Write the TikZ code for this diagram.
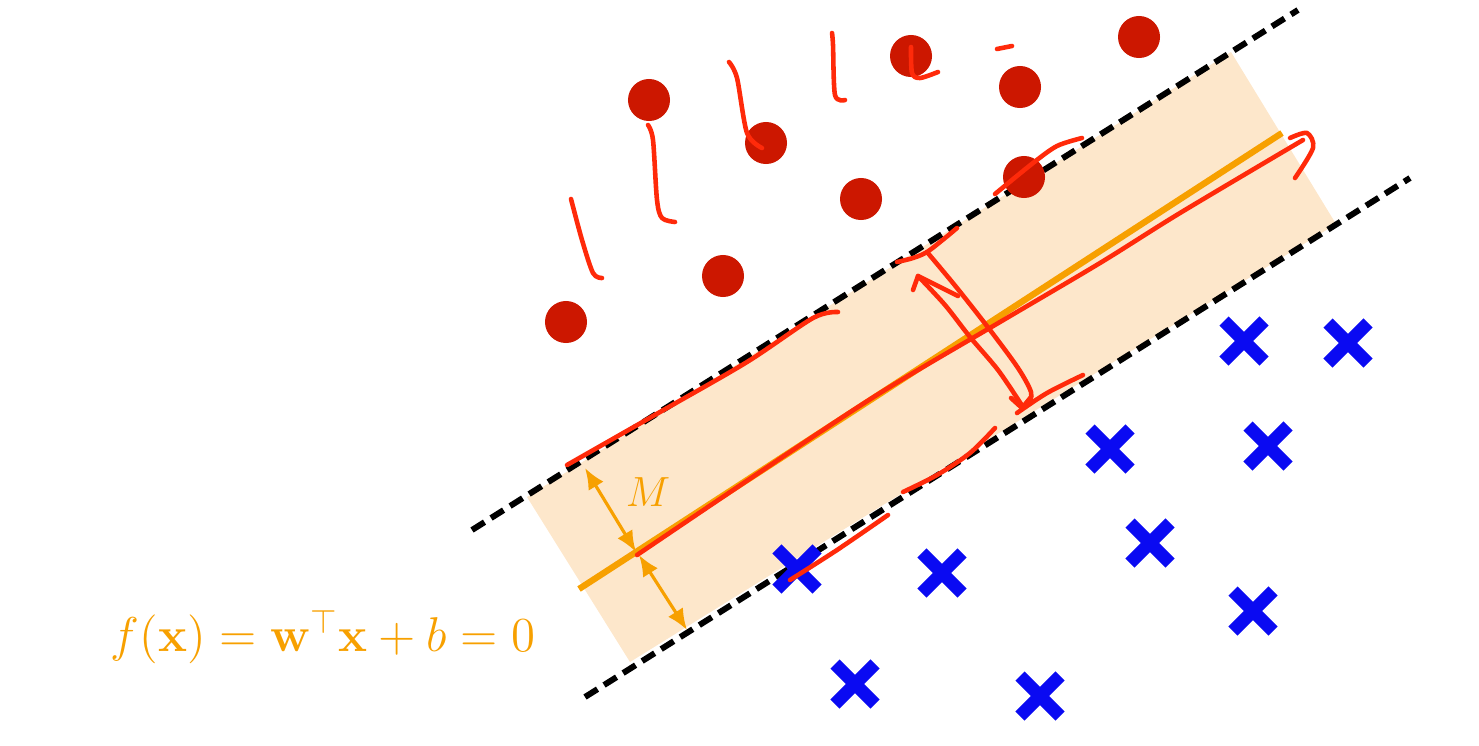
\documentclass[tikz,border=0pt]{standalone}
\usepackage{amsmath}
\usetikzlibrary{arrows.meta,shapes.misc}
\definecolor{bandfill}{HTML}{FDE7CB}
\definecolor{orng}{HTML}{F7A000}
\definecolor{dotred}{HTML}{CC1700}
\definecolor{penred}{HTML}{FF2A0A}
\definecolor{xblue}{HTML}{0A0AF2}
\tikzset{
  margin/.style={line width=1.7pt, dash pattern=on 4.2pt off 2.2pt},
  hyper/.style={orng, line width=1.8pt},
  marrow/.style={orng, line width=0.9pt, {Latex[length=6pt,width=5pt]}-{Latex[length=6pt,width=5pt]}},
  rdot/.style={circle, fill=dotred, minimum size=0.42cm, inner sep=0pt},
  bcross/.style={cross out, draw=xblue, line width=3.7pt, minimum size=0.27cm, inner sep=0pt},
  pen/.style={penred, line width=1.3pt, line cap=round, line join=round},
}
\begin{document}
\begin{tikzpicture}[x=0.01cm,y=-0.01cm]
\useasboundingbox (0,0) rectangle (1479,745);
% band
\fill[bandfill] (527,497) -- (1231,52) -- (1336,224) -- (630,662) -- cycle;
% margins
\coordinate (u1) at (472,530); \coordinate (u2) at (1298,10);
\coordinate (l1) at (585,697); \coordinate (l2) at (1410,178);
\draw[margin] (u1) -- (u2);
\draw[margin] (l1) -- (l2);
% hyperplane
\coordinate (h1) at (579,589); \coordinate (h2) at (1282,133);
\draw[hyper] (h1) -- (h2);
% margin arrows
\coordinate (ma) at (585,468); \coordinate (mb) at (636,552);
\coordinate (mc) at (639,555); \coordinate (md) at (687,630);
\draw[marrow] (ma) -- (mb);
\draw[marrow] (mc) -- (md);
\node[orng, font=\fontsize{13}{15}\selectfont] (mlabel) at (648,492) {$M$};
\node[orng, font=\fontsize{14.4}{16}\selectfont, scale=0.965, transform shape] (eq) at (323,637) {$f(\mathbf{x})=\mathbf{w}^{\top}\mathbf{x}+b=0$};
% red dots
\foreach \n/\p in {d1/{(649,100)},d2/{(766,143)},d3/{(861,199)},d4/{(911,56)},d5/{(1020,87)},d6/{(1024,177)},d7/{(723,276)},d8/{(566,322)},d9/{(1139,37)}}
  \node[rdot] (\n) at \p {};
% blue crosses
\foreach \n/\p in {c1/{(1244,341)},c2/{(1348,343)},c3/{(1110,449)},c4/{(1268,446)},c5/{(1150,543)},c6/{(797,569)},c7/{(942,573)},c8/{(1253,611)},c9/{(855,684)},c10/{(1040,696)}}
  \node[bcross] (\n) at \p {};
% hand-drawn annotations
\draw[pen] plot[smooth] coordinates {(571,199) (582,240) (593,273) (602,278)};
\draw[pen] plot[smooth] coordinates {(648,125) (653,140) (657,200) (662,218) (675,222)};
\draw[pen] plot[smooth] coordinates {(729,62) (737,78) (747,133) (762,148)};
\draw[pen] plot[smooth] coordinates {(832,33) (833,45) (835,95) (845,100)};
\draw[pen] plot[smooth] coordinates {(911,47) (912,73) (920,78) (938,72)};
\draw[pen] (997,49) -- (1012,46);
\draw[pen] plot[smooth] coordinates {(995,194) (1033,163) (1057,146) (1082,138)};
\draw[pen] plot[smooth] coordinates {(567,465) (660,412) (747,362) (813,318) (838,312)};
\draw[pen] plot[smooth] coordinates {(897,262) (913,258) (927,252) (945,238) (957,228)};
% double arrow across margin
\draw[pen] plot[smooth] coordinates {(927,252) (957,288) (990,330) (1018,368) (1031,392) (1029,404)};
\draw[pen] (913,290) -- (918,276) -- (958,296);
\draw[pen] plot[smooth] coordinates {(918,276) (945,305) (970,337) (998,370) (1021,404)};
\draw[pen] (1011,398) -- (1022,408) -- (1031,397);
\draw[pen] plot[smooth] coordinates {(1017,413) (1047,393) (1083,375)};
\draw[pen] plot[smooth] coordinates {(903,492) (937,475) (970,453) (995,428)};
\draw[pen] plot[smooth] coordinates {(790,580) (837,550) (888,515)};
% red line along hyperplane with arrow
\draw[pen] plot[smooth] coordinates {(637,555) (760,472) (880,393) (1000,322) (1100,263) (1180,213) (1303,140)};
\draw[pen] plot[smooth] coordinates {(1290,138) (1307,133) (1313,148) (1295,178)};
\end{tikzpicture}
\end{document}
